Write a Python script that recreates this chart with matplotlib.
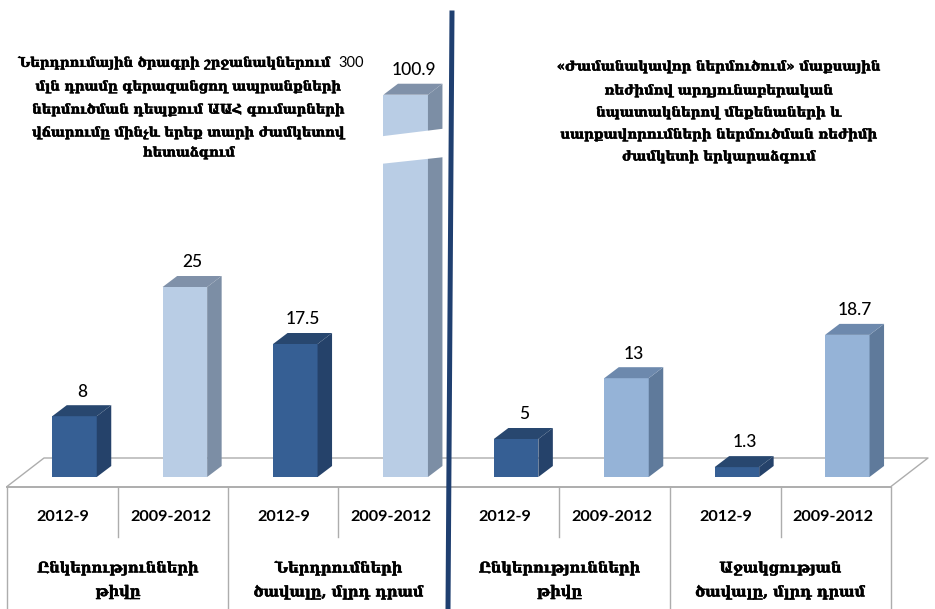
#!/usr/bin/env python3
"""Pseudo-3D bars of the investment programme figures, with a broken bar."""
import matplotlib
matplotlib.use('Agg')
import matplotlib.pyplot as plt
import matplotlib.patheffects as pe
from matplotlib.patches import Polygon

W, H = 935, 609

periods = ['2012-9', '2009-2012'] * 4
values = [8, 25, 17.5, 100.9, 5, 13, 1.3, 18.7]
value_labels = ['8', '25', '17.5', '100.9', '5', '13', '1.3', '18.7']
groups = [['Ընկերությունների', 'թիվը'],
          ['Ներդրումների', 'ծավալը, մլրդ դրամ'],
          ['Ընկերությունների', 'թիվը'],
          ['Աջակցության', 'ծավալը, մլրդ դրամ']]
note_left = ['Ներդրումային ծրագրի շրջանակներում',
             'մլն դրամը գերազանցող ապրանքների',
             'ներմուծման դեպքում ԱԱՀ գումարների',
             'վճարումը մինչև երեք տարի ժամկետով',
             'հետաձգում']
note_left_num = '300'
note_right = ['«Ժամանակավոր ներմուծում» մաքսային',
              'ռեժիմով արդյունաբերական',
              'նպատակներով մեքենաների և',
              'սարքավորումների ներմուծման ռեժիմի',
              'ժամկետի երկարաձգում']

# the 100.9 bar is cut, it only reaches this height on the axis
BROKEN_CAP = 50.3

# (front, side, top)
DARK = ('#365f94', '#25426a', '#28476f')
LIGHT_A = ('#b9cde5', '#7c8ea5', '#8091a9')
LIGHT_B = ('#95b3d7', '#5f7a9b', '#6d89ad')
bar_colors = [DARK, LIGHT_A, DARK, LIGHT_A, DARK, LIGHT_B, DARK, LIGHT_B]

SERIF = ['DejaVu Serif', 'DejaVu Sans']
SANS = ['Lato', 'DejaVu Sans']
TEXT_DARK = '#000000'
LINE = '#adadad'
HEAVY = [pe.withStroke(linewidth=0.35, foreground=TEXT_DARK)]

fig = plt.figure(figsize=(W / 100, H / 100), dpi=100)

# bars: x is the category index, y is the value
ax = fig.add_axes([0, 0, 1, 1], zorder=2)
ax.set_xlim(-74.5 / 110.4, (W - 74.5) / 110.4)
ax.set_ylim(-132 / 7.6, 477 / 7.6)
ax.axis('off')
ax.patch.set_alpha(0)

# floor lines go under the bars
floor = fig.add_axes([0, 0, 1, 1], zorder=1)
floor.set_xlim(0, W)
floor.set_ylim(H, 0)
floor.axis('off')
floor.plot([7, 44, 928, 891], [486.5, 458, 458, 486.5], color=LINE, lw=1.0)
floor.plot([7, 891], [486.5, 486.5], color=LINE, lw=1.4)
for x in [7, 228, 670, 891]:
    floor.plot([x, x], [486.5, H], color=LINE, lw=1.0)
for x in [117.5, 338, 559, 781]:
    floor.plot([x, x], [486.5, 537], color=LINE, lw=1.0)

# bars
bar_w = 44.5 / 110.4
dx, dy = 14.5 / 110.4, 11 / 7.6
for i, (v, lab) in enumerate(zip(values, value_labels)):
    front, side, top = bar_colors[i]
    h = min(v, BROKEN_CAP)
    x0, x1 = i - bar_w / 2, i + bar_w / 2
    ax.bar(i, h, width=bar_w, color=front, linewidth=0)
    ax.add_patch(Polygon([(x1, 0), (x1 + dx, dy), (x1 + dx, h + dy), (x1, h)],
                         closed=True, facecolor=side, edgecolor='none'))
    ax.add_patch(Polygon([(x0, h), (x1, h), (x1 + dx, h + dy), (x0 + dx, h + dy)],
                         closed=True, facecolor=top, edgecolor='none'))
    ax.text(i + 0.07, h + dy + 1.8, lab, ha='center', va='center', fontsize=12.5,
            family=SANS, color=TEXT_DARK, fontweight='medium')

# layout on top: plain pixel coordinates for the cut, divider and notes
pg = fig.add_axes([0, 0, 1, 1], zorder=3)
pg.set_xlim(0, W)
pg.set_ylim(H, 0)
pg.axis('off')
pg.patch.set_alpha(0)

# white cut through the tall bar
pg.add_patch(Polygon([(380, 136.5), (445, 128.5), (445, 157), (380, 164)],
                     closed=True, facecolor='white', edgecolor='none', zorder=3))

# divider
pg.plot([452, 448], [10.5, H], color='#1f3f70', lw=3.6, solid_capstyle='butt', zorder=4)

# period labels
for i, p in enumerate(periods):
    x = 63 + 110.4 * i - (3 if i % 2 else 0)
    pg.text(x, 517, p, ha='center', va='center', fontsize=11.7, family=SANS,
            color=TEXT_DARK, fontweight='bold', zorder=5)

# group labels
for i, lines in enumerate(groups):
    x = 118 + 220.8 * i
    for line, y in zip(lines, [568, 592]):
        pg.text(x, y, line, ha='center', va='center', fontsize=10.5, family=SERIF,
                color=TEXT_DARK, fontweight='bold', zorder=5, path_effects=HEAVY)

# notes
left_y = [63, 87, 110, 133, 153]
for i, (line, y) in enumerate(zip(note_left, left_y)):
    if i == 0:
        pg.text(332, y, line, ha='right', va='center', fontsize=9.5, family=SERIF,
                color=TEXT_DARK, fontweight='bold', zorder=5, path_effects=HEAVY)
        pg.text(351, y, note_left_num, ha='center', va='center', fontsize=10.5,
                family=SANS, color=TEXT_DARK, zorder=5)
    else:
        pg.text(189, y, line, ha='center', va='center', fontsize=9.5, family=SERIF,
                color=TEXT_DARK, fontweight='bold', zorder=5, path_effects=HEAVY)
right_y = [67, 91, 113, 135, 157]
for line, y in zip(note_right, right_y):
    pg.text(719, y, line, ha='center', va='center', fontsize=9.6, family=SERIF,
            color=TEXT_DARK, fontweight='bold', zorder=5, path_effects=HEAVY)

fig.savefig('out.png', dpi=100, facecolor='white')
